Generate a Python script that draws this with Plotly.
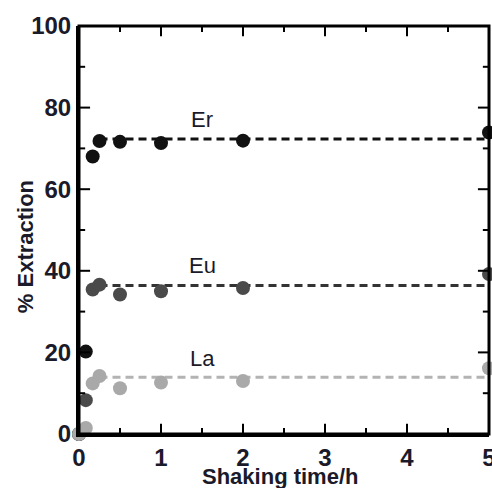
import plotly.graph_objects as go

time_h = [0, 0.083, 0.167, 0.25, 0.5, 1, 2, 5]
er_pct = [0, 20.2, 68.0, 71.8, 71.6, 71.3, 71.9, 73.9]
eu_pct = [0, 8.3, 35.4, 36.6, 34.2, 35.0, 35.8, 39.2]
la_pct = [0, 1.5, 12.4, 14.2, 11.2, 12.6, 13.0, 16.1]

plateau_x = [0.25, 5]
er_plateau = 72.3
eu_plateau = 36.4
la_plateau = 13.9

label_x = 1.5
labels = [("Er", 77.0), ("Eu", 41.3), ("La", 18.4)]

x_major = [0, 1, 2, 3, 4, 5]
x_minor = [0.5, 1.5, 2.5, 3.5, 4.5]
y_major = [0, 20, 40, 60, 80, 100]
y_minor = [10, 30, 50, 70, 90]

colors = {"Er": "#111111", "Eu": "#4a4a4a", "La": "#a9a9a9"}
line_colors = {"Er": "#111111", "Eu": "#333333", "La": "#b3b3b3"}

fig = go.Figure()
for name, plateau in [("Er", er_plateau), ("Eu", eu_plateau), ("La", la_plateau)]:
    fig.add_trace(go.Scatter(x=plateau_x, y=[plateau, plateau], mode="lines",
                             line=dict(color=line_colors[name], width=3, dash="8px,5px"),
                             showlegend=False, hoverinfo="skip", cliponaxis=False))
for name, vals in [("Er", er_pct), ("Eu", eu_pct), ("La", la_pct)]:
    fig.add_trace(go.Scatter(x=time_h, y=vals, mode="markers", name=name,
                             marker=dict(color=colors[name], size=14, line=dict(width=0)),
                             showlegend=False, cliponaxis=False))

for txt, yv in labels:
    fig.add_annotation(x=label_x, y=yv, text=txt, showarrow=False,
                       font=dict(family="Liberation Sans, Arial", size=22, color="#1a1a2a"))

fig.add_annotation(xref="paper", yref="paper", x=0.49, y=-0.105, yanchor="middle", xanchor="center",
                   text="<b>Shaking time/h</b>", showarrow=False,
                   font=dict(family="Liberation Sans, Arial", size=22, color="#1a1a2a"))
fig.add_annotation(xref="paper", yref="paper", x=-0.132, y=0.46, textangle=-90,
                   xanchor="center", yanchor="middle",
                   text="<b>% Extraction</b>", showarrow=False,
                   font=dict(family="Liberation Sans, Arial", size=22, color="#1a1a2a"))

# plot frame
fig.add_shape(type="rect", xref="paper", yref="paper", x0=0, x1=1, y0=0, y1=1,
              line=dict(color="black", width=3), fillcolor="rgba(0,0,0,0)", layer="above")

# inside tick marks on all four sides (lengths as fractions of the plot area)
tick_line = dict(color="black", width=2)
for vals, frac in [(x_major, 0.025), (x_minor, 0.015)]:
    for v in vals:
        fig.add_shape(type="line", xref="x", yref="paper", x0=v, x1=v, y0=0, y1=frac,
                      line=tick_line, layer="above")
        fig.add_shape(type="line", xref="x", yref="paper", x0=v, x1=v, y0=1, y1=1 - frac,
                      line=tick_line, layer="above")
for vals, frac in [(y_major, 0.027), (y_minor, 0.015)]:
    for v in vals:
        fig.add_shape(type="line", xref="paper", yref="y", x0=0, x1=frac, y0=v, y1=v,
                      line=tick_line, layer="above")
        fig.add_shape(type="line", xref="paper", yref="y", x0=1, x1=1 - frac, y0=v, y1=v,
                      line=tick_line, layer="above")

tick_font = dict(family="Liberation Sans, Arial", size=24, color="#1a1a2a", weight="bold")

fig.update_layout(
    width=492, height=488, margin=dict(l=79, r=3, t=26, b=54, autoexpand=False),
    plot_bgcolor="white", paper_bgcolor="white",
    xaxis=dict(range=[0, 5], tickvals=x_major, automargin=False,
               showline=True, linecolor="black", linewidth=3,
               ticks="", showgrid=False, zeroline=False, tickfont=tick_font,
               ticklabeloverflow="allow", layer="above traces"),
    yaxis=dict(range=[0, 100], tickvals=y_major, automargin=False,
               showline=True, linecolor="black", linewidth=3,
               ticks="", showgrid=False, zeroline=False, tickfont=tick_font,
               ticklabeloverflow="allow", layer="above traces"),
)

fig.write_html("out.html", config={"displayModeBar": False},
               post_script="document.body.style.margin='0';document.body.style.overflow='hidden';")
